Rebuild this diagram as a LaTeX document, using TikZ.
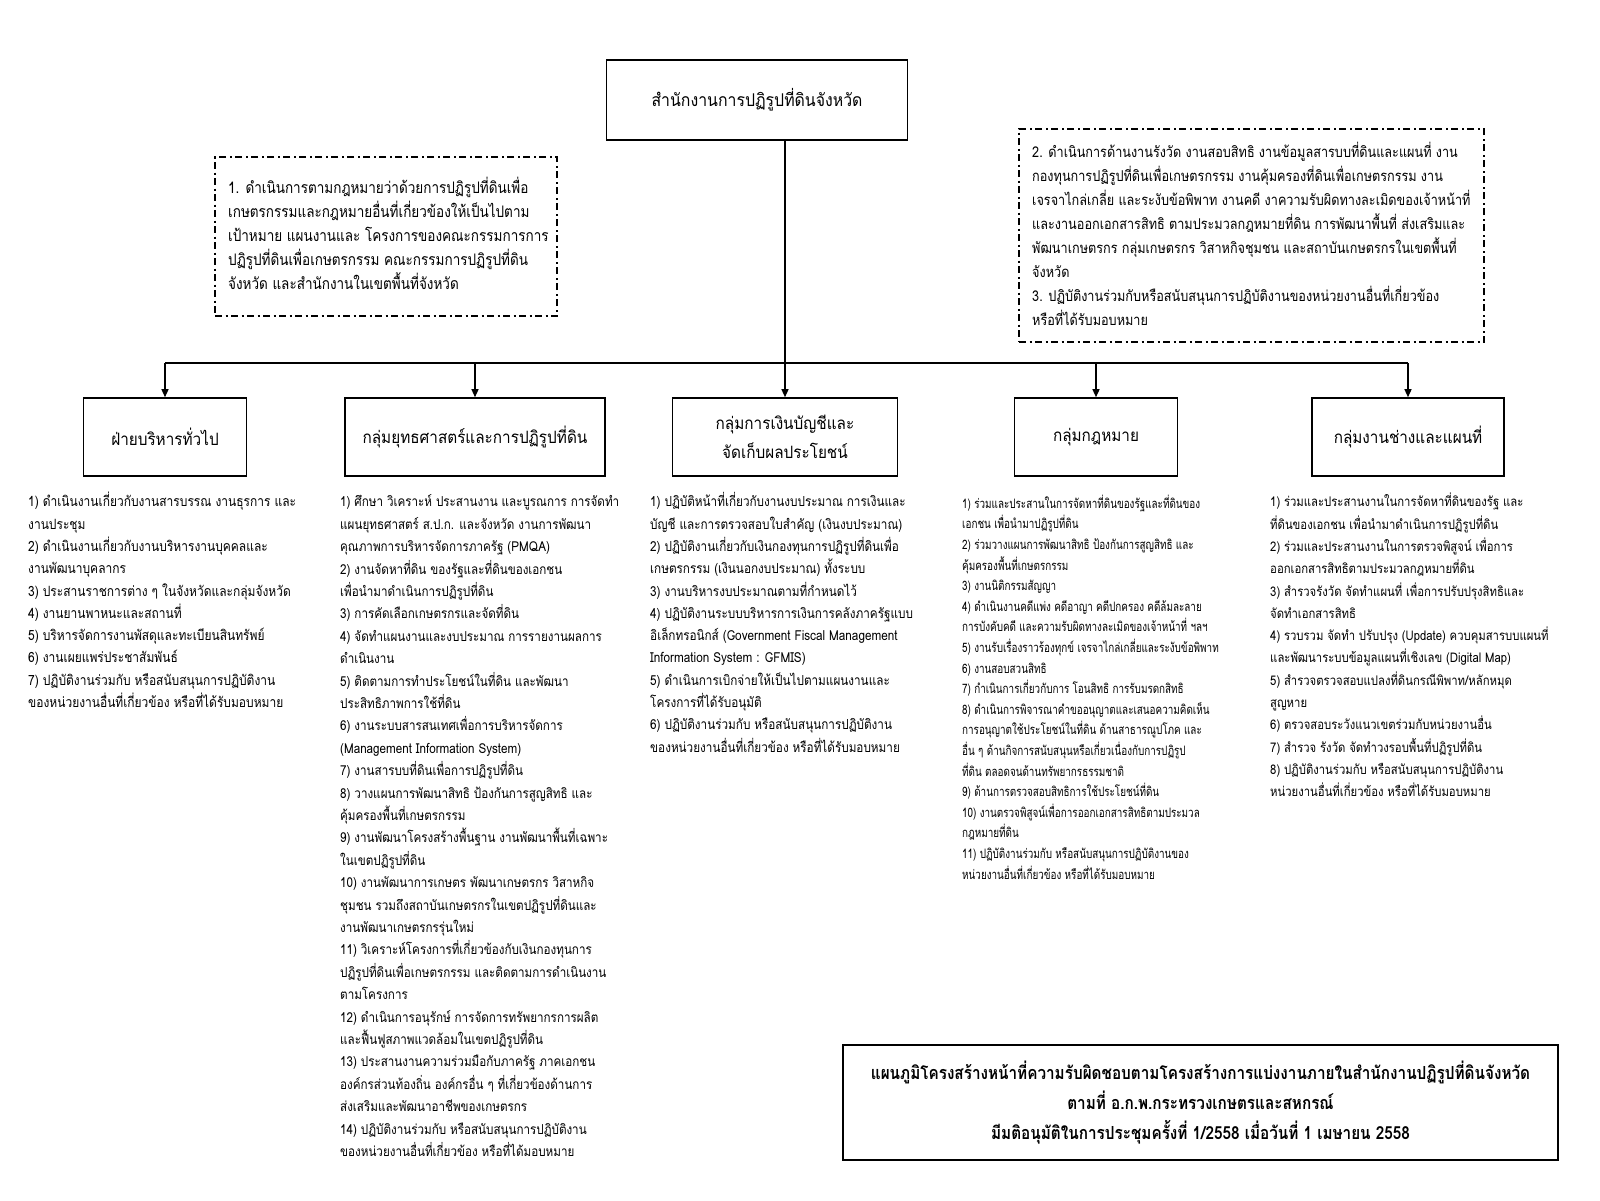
\documentclass[tikz,border=0pt]{standalone}
\usepackage{fontspec}
\usetikzlibrary{arrows.meta}
\newfontfamily\thaiF[Script=Thai,FakeStretch=0.85]{Loma}
\newfontfamily\thaiN[Script=Thai,FakeStretch=0.76]{Loma}
\newfontfamily\thaiH[Script=Thai,FakeStretch=0.9]{Loma}
\tikzset{
  box/.style={draw, line width=1.6pt, minimum height=78pt, inner sep=0pt, align=center, font=\thaiH\fontsize{17}{29}\selectfont},
  dbox/.style={draw, line width=2pt, dash pattern=on 7pt off 3.5pt on 2pt off 3.5pt, inner sep=0pt},
  body/.style={anchor=north west, inner sep=0pt, align=left, font=\thaiF\fontsize{13.8}{22.3}\selectfont},
  conn/.style={line width=1.3pt},
  arr/.style={conn, -{Triangle[length=8pt,width=7pt]}}
}
\begin{document}
\begin{tikzpicture}[x=1pt,y=-1pt]
\useasboundingbox[fill=white] (0,0) rectangle (1600,1200);

% top box
\node[box, minimum width=301pt, minimum height=80pt, font=\thaiH\fontsize{17.6}{29}\selectfont] (top) at (757,100) {สำนักงานการปฏิรูปที่ดินจังหวัด};

% dashed boxes
\node[dbox, minimum width=342pt, minimum height=159pt] (d1) at (386,236.5) {};
\node[body, font=\thaiF\fontsize{15.9}{24}\selectfont] (d1t) at (228,176) {\strut 1. ดำเนินการตามกฎหมายว่าด้วยการปฏิรูปที่ดินเพื่อ\\
เกษตรกรรมและกฎหมายอื่นที่เกี่ยวข้องให้เป็นไปตาม\\
เป้าหมาย แผนงานและ โครงการของคณะกรรมการการ\\
ปฏิรูปที่ดินเพื่อเกษตรกรรม คณะกรรมการปฏิรูปที่ดิน\\
จังหวัด และสำนักงานในเขตพื้นที่จังหวัด};

\node[dbox, minimum width=465pt, minimum height=213pt] (d2) at (1251.5,235.5) {};
\node[body, font=\thaiF\fontsize{14.9}{24}\selectfont] (d2t) at (1032,140) {\strut 2. ดำเนินการด้านงานรังวัด งานสอบสิทธิ งานข้อมูลสารบบที่ดินและแผนที่ งาน\\
กองทุนการปฏิรูปที่ดินเพื่อเกษตรกรรม งานคุ้มครองที่ดินเพื่อเกษตรกรรม งาน\\
เจรจาไกล่เกลี่ย และระงับข้อพิพาท งานคดี งาความรับผิดทางละเมิดของเจ้าหน้าที่\\
และงานออกเอกสารสิทธิ ตามประมวลกฎหมายที่ดิน การพัฒนาพื้นที่ ส่งเสริมและ\\
พัฒนาเกษตรกร กลุ่มเกษตรกร วิสาหกิจชุมชน และสถาบันเกษตรกรในเขตพื้นที่\\
จังหวัด\\
3. ปฏิบัติงานร่วมกับหรือสนับสนุนการปฏิบัติงานของหน่วยงานอื่นที่เกี่ยวข้อง\\
หรือที่ได้รับมอบหมาย};

% second level boxes
\node[box, minimum width=163pt] (b1) at (165,437) {ฝ่ายบริหารทั่วไป};
\node[box, minimum width=260pt] (b2) at (475,437) {กลุ่มยุทธศาสตร์และการปฏิรูปที่ดิน};
\node[box, minimum width=225pt] (b3) at (785,437) {กลุ่มการเงินบัญชีและ\\จัดเก็บผลประโยชน์};
\node[box, minimum width=163pt] (b4) at (1096,437) {กลุ่มกฎหมาย};
\node[box, minimum width=192pt] (b5) at (1408,437) {กลุ่มงานช่างและแผนที่};

% connectors
\coordinate (bus) at (0,363);
\draw[conn] (b1.north |- bus) -- (b5.north |- bus);
\foreach \b in {b1,b2,b4,b5} \draw[arr] (\b.north |- bus) -- (\b.north);
\draw[arr] (top.south -| b3.north) -- (b3.north);

% column texts
\node[body, font=\thaiF\fontsize{14.1}{22.3}\selectfont] (t1) at (28,491) {\strut 1) ดำเนินงานเกี่ยวกับงานสารบรรณ งานธุรการ และ\\
งานประชุม\\
2) ดำเนินงานเกี่ยวกับงานบริหารงานบุคคลและ\\
งานพัฒนาบุคลากร\\
3) ประสานราชการต่าง ๆ ในจังหวัดและกลุ่มจังหวัด\\
4) งานยานพาหนะและสถานที่\\
5) บริหารจัดการงานพัสดุและทะเบียนสินทรัพย์\\
6) งานเผยแพร่ประชาสัมพันธ์\\
7) ปฏิบัติงานร่วมกับ หรือสนับสนุนการปฏิบัติงาน\\
ของหน่วยงานอื่นที่เกี่ยวข้อง หรือที่ได้รับมอบหมาย};

\node[body, font=\thaiF\fontsize{13.7}{22.4}\selectfont] (t2) at (340,491) {\strut 1) ศึกษา วิเคราะห์ ประสานงาน และบูรณการ การจัดทำ\\
แผนยุทธศาสตร์ ส.ป.ก. และจังหวัด งานการพัฒนา\\
คุณภาพการบริหารจัดการภาครัฐ (PMQA)\\
2) งานจัดหาที่ดิน ของรัฐและที่ดินของเอกชน\\
เพื่อนำมาดำเนินการปฏิรูปที่ดิน\\
3) การคัดเลือกเกษตรกรและจัดที่ดิน\\
4) จัดทำแผนงานและงบประมาณ การรายงานผลการ\\
ดำเนินงาน\\
5) ติดตามการทำประโยชน์ในที่ดิน และพัฒนา\\
ประสิทธิภาพการใช้ที่ดิน\\
6) งานระบบสารสนเทศเพื่อการบริหารจัดการ\\
(Management Information System)\\
7) งานสารบบที่ดินเพื่อการปฏิรูปที่ดิน\\
8) วางแผนการพัฒนาสิทธิ ป้องกันการสูญสิทธิ และ\\
คุ้มครองพื้นที่เกษตรกรรม\\
9) งานพัฒนาโครงสร้างพื้นฐาน งานพัฒนาพื้นที่เฉพาะ\\
ในเขตปฏิรูปที่ดิน\\
10) งานพัฒนาการเกษตร พัฒนาเกษตรกร วิสาหกิจ\\
ชุมชน รวมถึงสถาบันเกษตรกรในเขตปฏิรูปที่ดินและ\\
งานพัฒนาเกษตรกรรุ่นใหม่\\
11) วิเคราะห์โครงการที่เกี่ยวข้องกับเงินกองทุนการ\\
ปฏิรูปที่ดินเพื่อเกษตรกรรม และติดตามการดำเนินงาน\\
ตามโครงการ\\
12) ดำเนินการอนุรักษ์ การจัดการทรัพยากรการผลิต\\
และฟื้นฟูสภาพแวดล้อมในเขตปฏิรูปที่ดิน\\
13) ประสานงานความร่วมมือกับภาครัฐ ภาคเอกชน\\
องค์กรส่วนท้องถิ่น องค์กรอื่น ๆ ที่เกี่ยวข้องด้านการ\\
ส่งเสริมและพัฒนาอาชีพของเกษตรกร\\
14) ปฏิบัติงานร่วมกับ หรือสนับสนุนการปฏิบัติงาน\\
ของหน่วยงานอื่นที่เกี่ยวข้อง หรือที่ได้มอบหมาย};

\node[body] (t3) at (650,491) {\strut 1) ปฏิบัติหน้าที่เกี่ยวกับงานงบประมาณ การเงินและ\\
บัญชี และการตรวจสอบใบสำคัญ (เงินงบประมาณ)\\
2) ปฏิบัติงานเกี่ยวกับเงินกองทุนการปฏิรูปที่ดินเพื่อ\\
เกษตรกรรม (เงินนอกงบประมาณ) ทั้งระบบ\\
3) งานบริหารงบประมาณตามที่กำหนดไว้\\
4) ปฏิบัติงานระบบบริหารการเงินการคลังภาครัฐแบบ\\
อิเล็กทรอนิกส์ (Government Fiscal Management\\
Information System : GFMIS)\\
5) ดำเนินการเบิกจ่ายให้เป็นไปตามแผนงานและ\\
โครงการที่ได้รับอนุมัติ\\
6) ปฏิบัติงานร่วมกับ หรือสนับสนุนการปฏิบัติงาน\\
ของหน่วยงานอื่นที่เกี่ยวข้อง หรือที่ได้รับมอบหมาย};

\node[body, font=\thaiN\fontsize{13}{20.6}\selectfont] (t4) at (962,493.6) {\strut 1) ร่วมและประสานในการจัดหาที่ดินของรัฐและที่ดินของ\\
เอกชน เพื่อนำมาปฏิรูปที่ดิน\\
2) ร่วมวางแผนการพัฒนาสิทธิ ป้องกันการสูญสิทธิ และ\\
คุ้มครองพื้นที่เกษตรกรรม\\
3) งานนิติกรรมสัญญา\\
4) ดำเนินงานคดีแพ่ง คดีอาญา คดีปกครอง คดีล้มละลาย\\
การบังคับคดี และความรับผิดทางละเมิดของเจ้าหน้าที่ ฯลฯ\\
5) งานรับเรื่องราวร้องทุกข์ เจรจาไกล่เกลี่ยและระงับข้อพิพาท\\
6) งานสอบสวนสิทธิ\\
7) กำเนินการเกี่ยวกับการ โอนสิทธิ การรับมรดกสิทธิ\\
8) ดำเนินการพิจารณาคำขออนุญาตและเสนอความคิดเห็น\\
การอนุญาตใช้ประโยชน์ในที่ดิน ด้านสาธารณูปโภค และ\\
อื่น ๆ ด้านกิจการสนับสนุนหรือเกี่ยวเนื่องกับการปฏิรูป\\
ที่ดิน ตลอดจนด้านทรัพยากรธรรมชาติ\\
9) ด้านการตรวจสอบสิทธิการใช้ประโยชน์ที่ดิน\\
10) งานตรวจพิสูจน์เพื่อการออกเอกสารสิทธิตามประมวล\\
กฎหมายที่ดิน\\
11) ปฏิบัติงานร่วมกับ หรือสนับสนุนการปฏิบัติงานของ\\
หน่วยงานอื่นที่เกี่ยวข้อง หรือที่ได้รับมอบหมาย};

\node[body, font=\thaiF\fontsize{13.3}{22.3}\selectfont] (t5) at (1270,491) {\strut 1) ร่วมและประสานงานในการจัดหาที่ดินของรัฐ และ\\
ที่ดินของเอกชน เพื่อนำมาดำเนินการปฏิรูปที่ดิน\\
2) ร่วมและประสานงานในการตรวจพิสูจน์ เพื่อการ\\
ออกเอกสารสิทธิตามประมวลกฎหมายที่ดิน\\
3) สำรวจรังวัด จัดทำแผนที่ เพื่อการปรับปรุงสิทธิและ\\
จัดทำเอกสารสิทธิ\\
4) รวบรวม จัดทำ ปรับปรุง (Update) ควบคุมสารบบแผนที่\\
และพัฒนาระบบข้อมูลแผนที่เชิงเลข (Digital Map)\\
5) สำรวจตรวจสอบแปลงที่ดินกรณีพิพาท/หลักหมุด\\
สูญหาย\\
6) ตรวจสอบระวังแนวเขตร่วมกับหน่วยงานอื่น\\
7) สำรวจ รังวัด จัดทำวงรอบพื้นที่ปฏิรูปที่ดิน\\
8) ปฏิบัติงานร่วมกับ หรือสนับสนุนการปฏิบัติงาน\\
หน่วยงานอื่นที่เกี่ยวข้อง หรือที่ได้รับมอบหมาย};

% title box
\node[draw, line width=1.6pt, minimum width=715pt, minimum height=115pt, inner sep=0pt, align=center,
  font=\thaiF\bfseries\fontsize{18}{30}\selectfont] (title) at (1200.5,1102.5)
 {แผนภูมิโครงสร้างหน้าที่ความรับผิดชอบตามโครงสร้างการแบ่งงานภายในสำนักงานปฏิรูปที่ดินจังหวัด\\
 ตามที่ อ.ก.พ.กระทรวงเกษตรและสหกรณ์\\
 มีมติอนุมัติในการประชุมครั้งที่ 1/2558 เมื่อวันที่ 1 เมษายน 2558};
\end{tikzpicture}
\end{document}
